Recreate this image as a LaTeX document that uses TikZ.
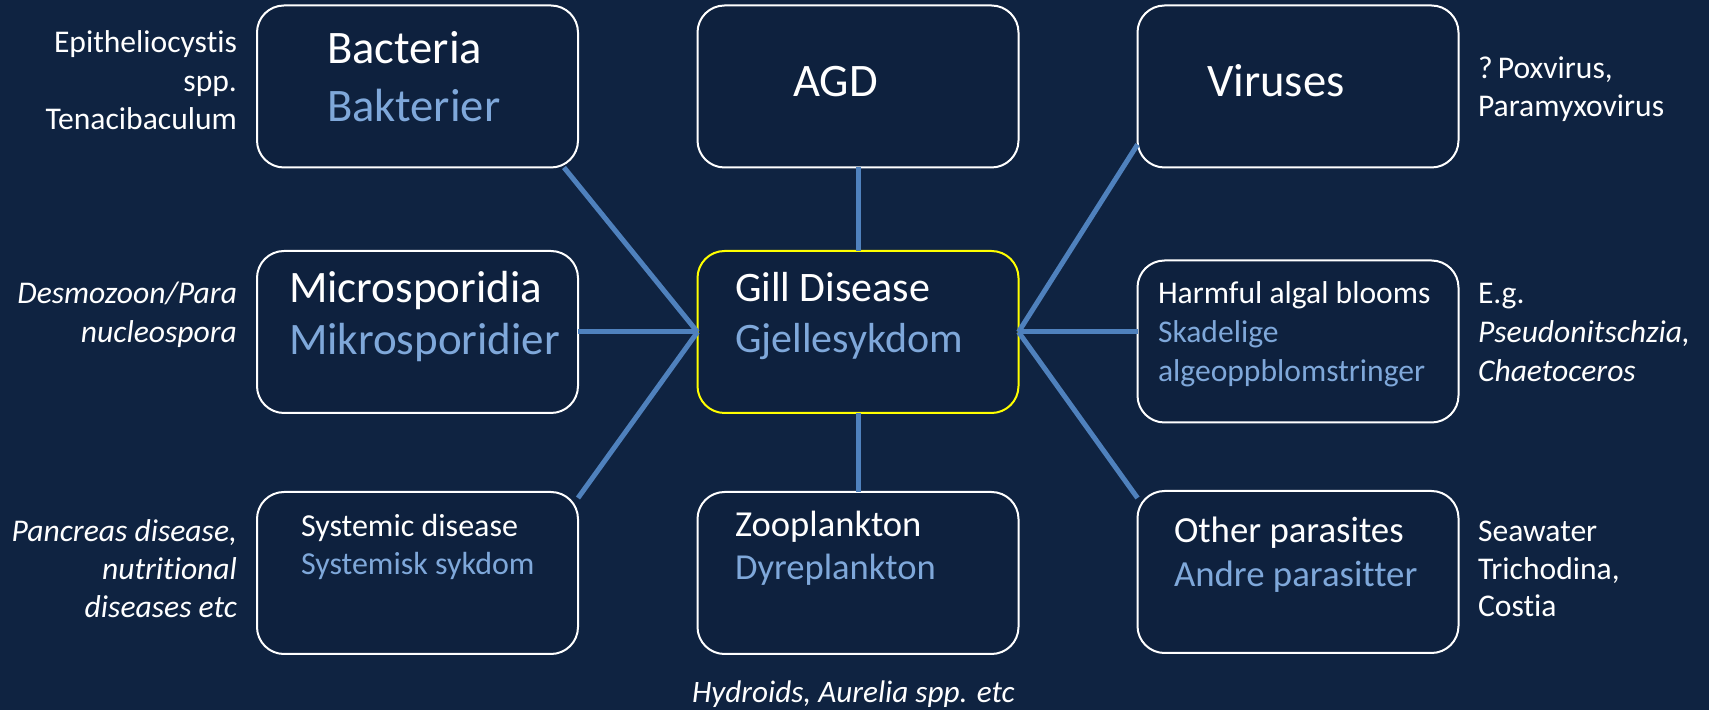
\documentclass[tikz,border=0pt]{standalone}
\usepackage{fontspec}
\setmainfont{Carlito}[Ligatures={NoCommon}]
\usetikzlibrary{calc}
\definecolor{bgc}{HTML}{0F2341}
\definecolor{boxc}{HTML}{0E213E}
\definecolor{lblue}{HTML}{7FA8DA}
\definecolor{linkc}{HTML}{4F81BD}
\definecolor{hlc}{HTML}{FFFF00}
\newcommand{\setfs}[1]{\fontsize{#1}{#1}\selectfont}
\tikzset{
  box/.style={draw=white, line width=1pt, fill=boxc, rounded corners=13.5pt,
    minimum width=160.5pt, minimum height=81pt, inner sep=0pt, outer sep=0pt},
  mainbox/.style={box, draw=hlc},
  linkline/.style={draw=linkc, line width=2.5pt},
  txt/.style={inner sep=0pt, outer sep=0pt, anchor=base west, text=white},
  txtb/.style={txt, text=lblue},
  sidel/.style={inner sep=0pt, outer sep=0pt, anchor=base east, text=white, font=\setfs{15.8}},
  sider/.style={inner sep=0pt, outer sep=0pt, anchor=base west, text=white, font=\setfs{15.8}},
  toprow/.style={font=\setfs{23.3}},
}
\begin{document}
\begin{tikzpicture}[x=0.5pt,y=-0.5pt]
\useasboundingbox (0,0) rectangle (1709,710);
\fill[bgc] (0,0) rectangle (1709,710);

% boxes
\node[box] (bact) at (417.5,86.5) {};
\node[box] (agd) at (858,86.5) {};
\node[box] (vir) at (1298,86.5) {};
\node[box] (micro) at (417.5,332) {};
\node[mainbox] (gill) at (858,332) {};
\node[box] (hab) at (1298,341.5) {};
\node[box] (sys) at (417.5,573) {};
\node[box] (zoo) at (858,573) {};
\node[box] (oth) at (1298,572) {};

% connectors
\draw[linkline] (gill.west) -- ($(bact.south east)+(-14,0)$);
\draw[linkline] (gill.west) -- (micro.east);
\draw[linkline] (gill.west) -- ($(sys.north east)+(0,6)$);
\draw[linkline] (gill.east) -- ($(vir.south west)+(0,-23)$);
\draw[linkline] (gill.east) -- (hab.west |- gill.east);
\draw[linkline] (gill.east) -- ($(oth.north west)+(0,7)$);
\draw[linkline] (agd.south) -- (gill.north);
\draw[linkline] (gill.south) -- (zoo.north);

% box texts
\node[txt, toprow] (t-bact) at (327,64) {Bacteria};
\node[txtb, toprow] (t-bakt) at (327,122) {Bakterier};
\node[txt, toprow] (t-agd) at (793,97) {AGD};
\node[txt, toprow] (t-vir) at (1207,97) {Viruses};
\node[txt, font=\setfs{22.5}] (t-micro) at (289,303) {Microsporidia};
\node[txtb, font=\setfs{22.5}] (t-mikro) at (289,355) {Mikrosporidier};
\node[txt, font=\setfs{21}] (t-gill) at (735,302) {Gill Disease};
\node[txtb, font=\setfs{21}] (t-gjel) at (735,353) {Gjellesykdom};
\node[txt, font=\setfs{15.8}] (t-hab1) at (1158,304) {Harmful algal blooms};
\node[txtb, font=\setfs{15.8}] (t-hab2) at (1158,343) {Skadelige};
\node[txtb, font=\setfs{15.8}] (t-hab3) at (1158,382) {algeoppblomstringer};
\node[txt, font=\setfs{16}] (t-sys1) at (301,537) {Systemic disease};
\node[txtb, font=\setfs{16}] (t-sys2) at (301,575) {Systemisk sykdom};
\node[txt, font=\setfs{18.3}] (t-zoo1) at (735,537) {Zooplankton};
\node[txtb, font=\setfs{18.3}] (t-zoo2) at (735,580) {Dyreplankton};
\node[txt, font=\setfs{18.4}] (t-oth1) at (1174,543) {Other parasites};
\node[txtb, font=\setfs{18.4}] (t-oth2) at (1174,587) {Andre parasitter};

% side texts left
\node[sidel] (s-b1) at (237,53) {Epitheliocystis};
\node[sidel] (s-b2) at (237,92) {spp.};
\node[sidel] (s-b3) at (237,130) {Tenacibaculum};
\node[sidel] (s-m1) at (237,304) {\itshape Desmozoon/Para};
\node[sidel] (s-m2) at (237,343) {\itshape nucleospora};
\node[sidel] (s-s1) at (237,542) {\itshape Pancreas disease,};
\node[sidel] (s-s2) at (237,580) {\itshape nutritional};
\node[sidel] (s-s3) at (237,618) {\itshape diseases etc};

% side texts right
\node[sider] (s-v1) at (1478,79) {?\,Poxvirus,};
\node[sider] (s-v2) at (1478,117) {Paramyxovirus};
\node[sider] (s-h1) at (1478,304) {E.g.};
\node[sider] (s-h2) at (1478,343) {\itshape Pseudonitschzia,};
\node[sider] (s-h3) at (1478,382) {\itshape Chaetoceros};
\node[sider] (s-o1) at (1478,542) {Seawater};
\node[sider] (s-o2) at (1478,580) {Trichodina,};
\node[sider] (s-o3) at (1478,617) {Costia};

% below zooplankton
\node[sider, font=\setfs{15.6}\itshape] (s-z) at (692,703) {Hydroids, Aurelia spp. etc};
\end{tikzpicture}
\end{document}
